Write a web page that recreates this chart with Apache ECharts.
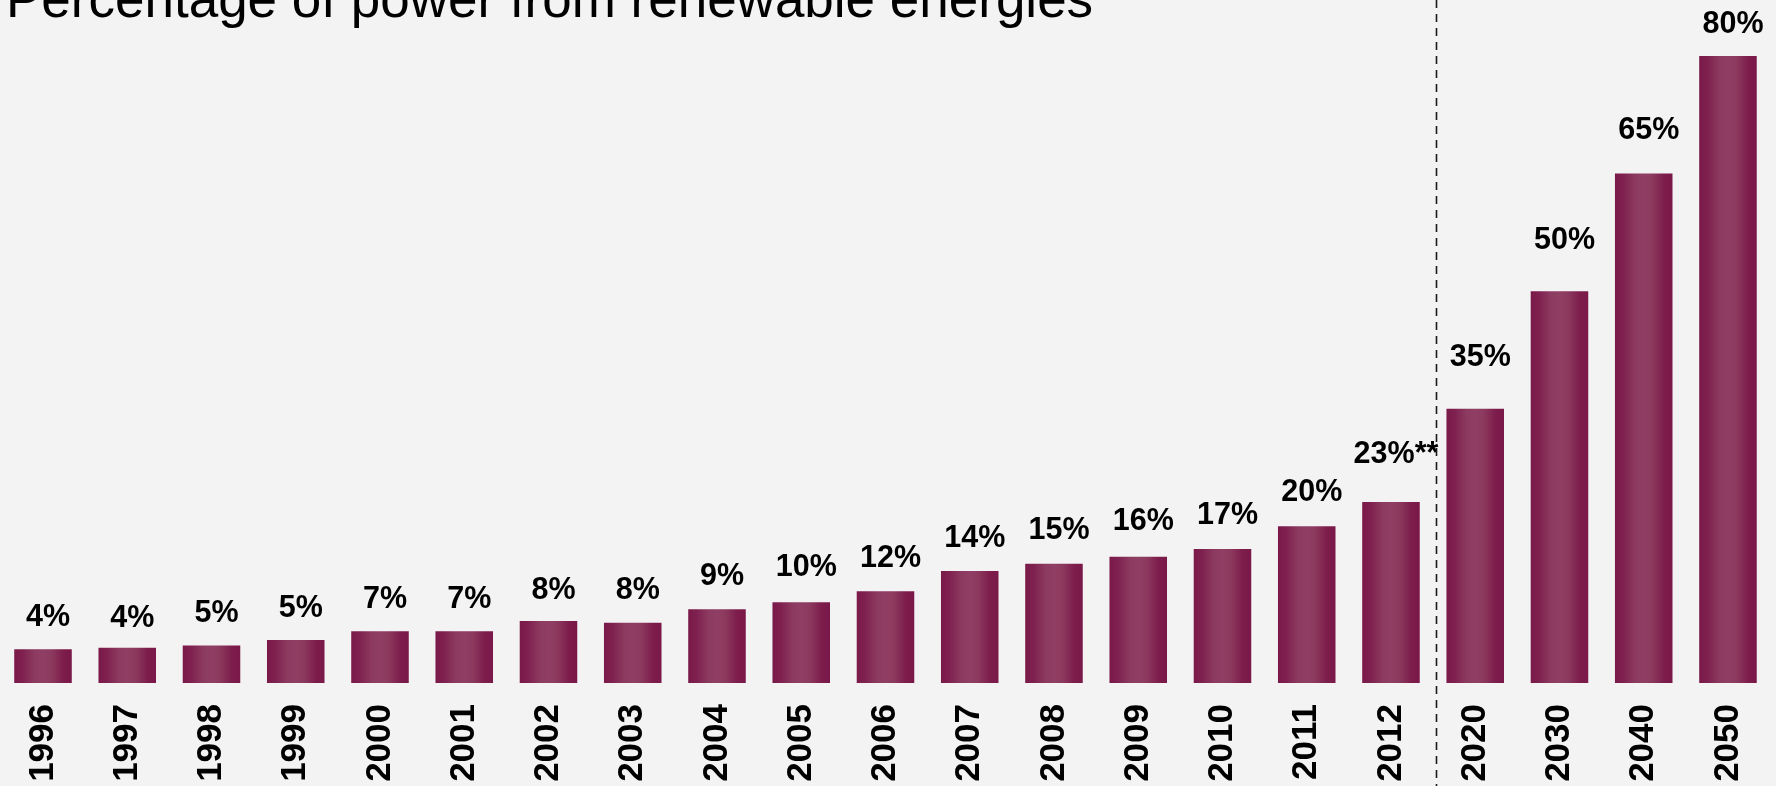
<!DOCTYPE html>
<html>
<head>
<meta charset="utf-8">
<style>
  html, body { margin: 0; padding: 0; background: #f3f3f3; }
  #chart { width: 1776px; height: 786px; }
</style>
<script src="https://cdn.jsdelivr.net/npm/echarts@6/dist/echarts.min.js"></script>
</head>
<body>
<div id="chart"></div>
<script>
// ---- data ----
const years = ['1996','1997','1998','1999','2000','2001','2002','2003','2004','2005','2006','2007','2008','2009','2010','2011','2012','2020','2030','2040','2050'];
const shares = [4.3, 4.5, 4.8, 5.5, 6.6, 6.6, 7.9, 7.7, 9.4, 10.3, 11.7, 14.3, 15.2, 16.1, 17.1, 20.0, 23.1, 35, 50, 65, 80];
const valueLabels = ['4%','4%','5%','5%','7%','7%','8%','8%','9%','10%','12%','14%','15%','16%','17%','20%','23%**','35%','50%','65%','80%'];
const titleText = 'Percentage of power from renewable energies';

// ---- style ----
const FONT = '"Liberation Sans", Arial, sans-serif';
const labelGap = [16,14,16,16,16,16,15,17,17,19,17,17,18,20,18,18,32,36,35,27,16];

const barGradient = new echarts.graphic.LinearGradient(0, 0, 1, 0, [
  { offset: 0, color: '#7a1949' },
  { offset: 0.15, color: '#7f2150' },
  { offset: 0.35, color: '#8c3a5f' },
  { offset: 0.5, color: '#903f64' },
  { offset: 0.65, color: '#8c395e' },
  { offset: 0.85, color: '#7d1d4c' },
  { offset: 1, color: '#7a1949' }
]);

const chart = echarts.init(document.getElementById('chart'), null, { renderer: 'canvas' });

const seriesData = shares.map((v, i) => ({
  value: v,
  label: { distance: labelGap[i] }
}));

chart.setOption({
  backgroundColor: '#f3f3f3',
  animation: false,
  title: {
    text: titleText,
    left: 6,
    top: -24,
    padding: 0,
    textStyle: { fontFamily: FONT, fontSize: 53, fontWeight: 'normal', color: '#000' }
  },
  grid: { left: 0.875, right: 5.9, top: 56, bottom: 103 },
  xAxis: {
    type: 'category',
    data: years,
    axisLine: { show: false },
    axisTick: { show: false },
    axisLabel: {
      interval: 0,
      rotate: 90,
      margin: 21,
      fontFamily: FONT,
      fontSize: 35,
      fontWeight: 'bold',
      color: '#000'
    }
  },
  yAxis: {
    type: 'value',
    min: 0,
    max: 80,
    show: false,
    splitLine: { show: false }
  },
  series: [{
    type: 'bar',
    data: seriesData,
    barCategoryGap: '31.7%',
    itemStyle: { color: barGradient },
    label: {
      show: true,
      position: 'top',
      offset: [5, 0],
      fontFamily: FONT,
      fontSize: 30.5,
      fontWeight: 'bold',
      color: '#000',
      formatter: p => valueLabels[p.dataIndex]
    }
  }]
});

// dashed separator between history and targets
const xa = chart.convertToPixel({ xAxisIndex: 0 }, '2012');
const xb = chart.convertToPixel({ xAxisIndex: 0 }, '2020');
const sepX = Math.round((xa + xb) / 2 + 3) + 0.5;
chart.setOption({
  graphic: [{
    type: 'line',
    shape: { x1: sepX, y1: 0, x2: sepX, y2: 786 },
    style: { stroke: '#1a1a1a', lineWidth: 1.6, lineDash: [8, 6] },
    z: 10
  }]
});
</script>
</body>
</html>
